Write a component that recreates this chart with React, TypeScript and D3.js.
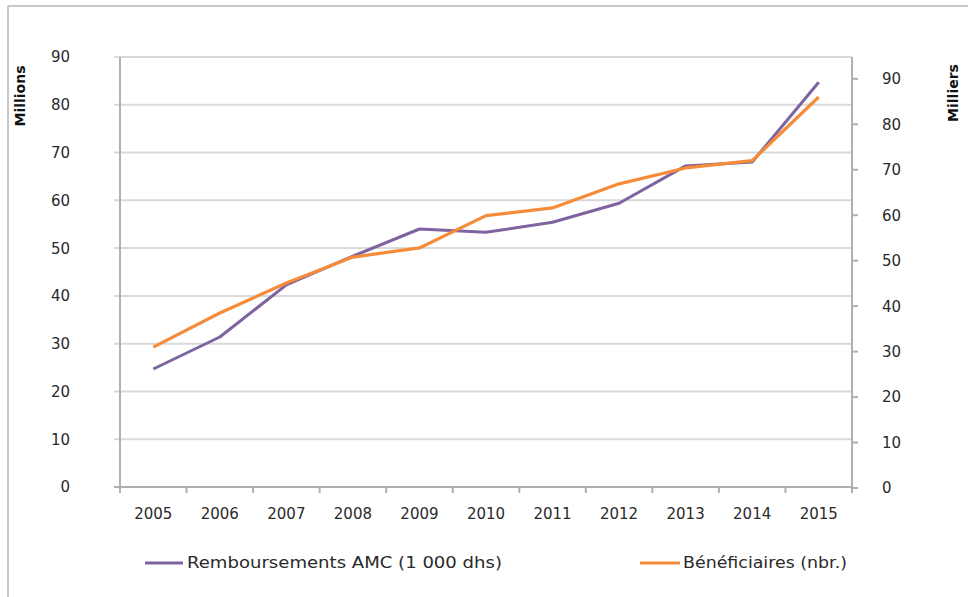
import React from "react";
import * as d3 from "d3";

const years = ["2005","2006","2007","2008","2009","2010","2011","2012","2013","2014","2015"];
const remboursements = [24.7, 31.4, 42.3, 48.3, 54.0, 53.3, 55.4, 59.4, 67.2, 68.0, 84.7];
const beneficiaires = [31.0, 38.5, 45.1, 50.8, 52.8, 59.9, 61.6, 66.9, 70.4, 72.0, 86.0];
const leftTicks = [0,10,20,30,40,50,60,70,80,90];
const rightTicks = [0,10,20,30,40,50,60,70,80,90];

const W = 968, H = 597;
const PURPLE = "#7f63a1";
const ORANGE = "#f68b3a";
const FONT = "'DejaVu Sans', sans-serif";

export default function App() {
  const x0 = 120, x1 = 852, yTop = 57, yBot = 487;
  const xBand = d3.scaleBand<string>().domain(years).range([x0, x1]);
  const yL = d3.scaleLinear().domain([0, 90]).range([yBot, yTop]);
  const yR = d3.scaleLinear().domain([0, 94.8]).range([yBot + 1, yTop]);
  const cx = (y: string) => (xBand(y) as number) + xBand.bandwidth() / 2;
  const lineL = d3.line<number>().x((_, i) => cx(years[i])).y(d => yL(d));
  const lineR = d3.line<number>().x((_, i) => cx(years[i])).y(d => yR(d));
  const bounds = d3.range(years.length + 1).map(i => x0 + i * xBand.bandwidth());

  return (
    <svg width={W} height={H} style={{ position: "absolute", left: 0, top: 0 }} fontFamily={FONT}>
      <rect x={0} y={0} width={W} height={H} fill="#fff" />
      <line x1={8} y1={6} x2={W} y2={6} stroke="#c8c8c8" strokeWidth={2} />
      <line x1={8} y1={6} x2={8} y2={H} stroke="#c8c8c8" strokeWidth={2} />
      {leftTicks.map(t => (
        <g key={"gl" + t}>
          <line x1={x0 - 6} x2={x1} y1={yL(t)} y2={yL(t)} stroke={t === 0 ? "#b0b0b0" : "#d9d9d9"} strokeWidth={2} />
          <text x={70} y={yL(t)} dy="0.36em" textAnchor="end" fontSize={15} fill="#2a2a2a">{t}</text>
        </g>
      ))}
      {rightTicks.map(t => (
        <g key={"gr" + t}>
          <line x1={x1} x2={x1 + 6} y1={yR(t)} y2={yR(t)} stroke="#b0b0b0" strokeWidth={2} />
          <text x={882} y={yR(t)} dy="0.36em" textAnchor="start" fontSize={15} fill="#2a2a2a">{t}</text>
        </g>
      ))}
      <line x1={x0} x2={x0} y1={yTop} y2={yBot + 6} stroke="#b0b0b0" strokeWidth={2} />
      <line x1={x1} x2={x1} y1={yTop} y2={yBot + 6} stroke="#b0b0b0" strokeWidth={2} />
      {bounds.map((b, i) => (
        <line key={"bt" + i} x1={b} x2={b} y1={yBot} y2={yBot + 6} stroke="#b0b0b0" strokeWidth={2} />
      ))}
      {years.map(y => (
        <text key={y} x={cx(y)} y={519} textAnchor="middle" fontSize={15} fill="#2a2a2a">{y}</text>
      ))}
      <text transform={`translate(25,96) rotate(-90)`} textAnchor="middle" fontSize={14} fontWeight="bold" fill="#111">Millions</text>
      <text transform={`translate(958,93) rotate(-90)`} textAnchor="middle" fontSize={14} fontWeight="bold" fill="#111">Milliers</text>
      <path d={lineL(remboursements) || ""} fill="none" stroke={PURPLE} strokeWidth={3} strokeLinejoin="round" />
      <path d={lineR(beneficiaires) || ""} fill="none" stroke={ORANGE} strokeWidth={3.2} strokeLinejoin="round" />
      <line x1={145} x2={183} y1={563} y2={563} stroke={PURPLE} strokeWidth={3} />
      <text x={187} y={563} dy="0.36em" fontSize={15} fill="#2a2a2a" textLength={315} lengthAdjust="spacingAndGlyphs">Remboursements AMC (1 000 dhs)</text>
      <line x1={640} x2={680} y1={563} y2={563} stroke={ORANGE} strokeWidth={3} />
      <text x={683} y={563} dy="0.36em" fontSize={15} fill="#2a2a2a" textLength={164} lengthAdjust="spacingAndGlyphs">Bénéficiaires (nbr.)</text>
    </svg>
  );
}
